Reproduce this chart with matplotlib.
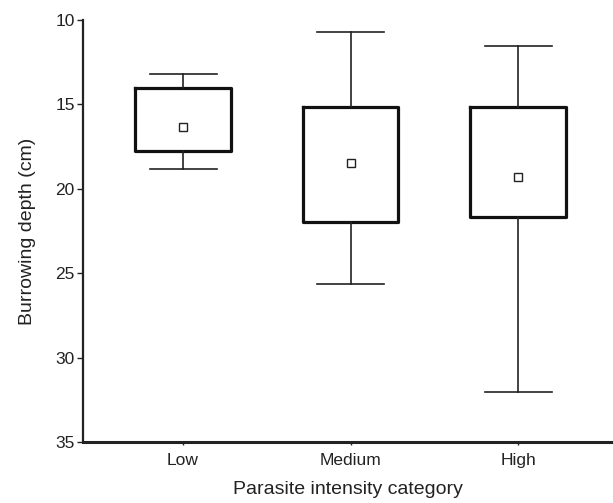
import matplotlib
matplotlib.use("Agg")
import matplotlib.pyplot as plt

categories = ["Low", "Medium", "High"]
whisker_low = [13.2, 10.7, 11.55]
q1 = [14.03, 15.13, 15.15]
q3 = [17.74, 21.95, 21.65]
means = [16.34, 18.45, 19.32]
whisker_high = [18.83, 25.64, 32.02]
yticks = [10, 15, 20, 25, 30, 35]

plt.rcParams['font.family'] = ['Liberation Sans', 'DejaVu Sans']

fig = plt.figure(figsize=(6.13, 5.03), dpi=100)
ax = fig.add_axes([0.1354, 0.1213, 0.8646, 0.8387])

stats = []
for i, c in enumerate(categories):
    med = (q1[i] + q3[i]) / 2
    stats.append(dict(label=c, whislo=whisker_low[i], q1=q1[i], med=med,
                      q3=q3[i], whishi=whisker_high[i], mean=means[i], fliers=[]))

pos = list(range(1, len(categories) + 1))
ax.bxp(stats, positions=pos, widths=0.57, showmeans=True, showfliers=False,
       boxprops=dict(linewidth=2.3, color='#111111'),
       whiskerprops=dict(linewidth=1.2, color='#222222'),
       capprops=dict(linewidth=1.2, color='#222222'),
       medianprops=dict(linewidth=0),
       meanprops=dict(marker='s', markersize=5.5, markerfacecolor='white',
                      markeredgecolor='#222222', markeredgewidth=1.0),
       capwidths=0.4)

ax.set_xlim(1 - 100 / 167.5, 3 + 95 / 167.5)
ax.set_ylim(35, 10)
ax.set_yticks(yticks)
ax.set_xticks(pos)
ax.set_xticklabels(categories)
for s in ['top', 'right']:
    ax.spines[s].set_visible(False)
ax.spines['left'].set_linewidth(1.6)
ax.spines['bottom'].set_linewidth(2.2)
ax.spines['left'].set_color('#222222')
ax.spines['bottom'].set_color('#222222')
ax.tick_params(axis='y', length=4, width=1, labelsize=12.5, colors='#222222', pad=2)
ax.tick_params(axis='x', length=2, width=1, labelsize=12.5, colors='#222222', pad=6)
ax.set_ylabel("Burrowing depth (cm)", fontsize=14, color='#222222', labelpad=14)
ax.set_xlabel("Parasite intensity category", fontsize=14, color='#222222', labelpad=9)

fig.savefig("out.png", dpi=100)
